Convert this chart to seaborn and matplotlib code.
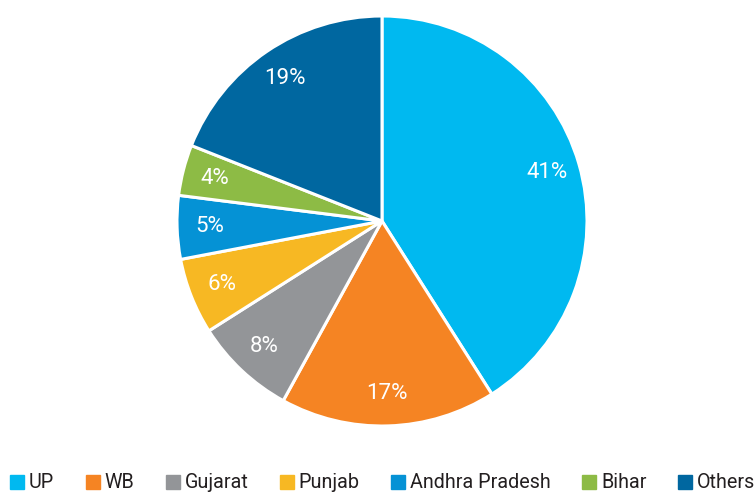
import matplotlib
matplotlib.use("Agg")
import matplotlib.pyplot as plt
from matplotlib.lines import Line2D
import seaborn as sns

categories = ["UP", "WB", "Gujarat", "Punjab", "Andhra Pradesh", "Bihar", "Others"]
values = [41, 17, 8, 6, 5, 4, 19]
colors = ["#00B9F0", "#F58423", "#939598", "#F7B823", "#0592D5", "#8DBB45", "#0067A0"]

sns.set_theme(style="white")
palette = sns.color_palette(colors)

fig = plt.figure(figsize=(7.56, 4.93), dpi=100)
ax = fig.add_axes([177 / 756, 67 / 493, 410 / 756, 410 / 493])

wedges, texts = ax.pie(
    values,
    colors=palette,
    startangle=90,
    counterclock=False,
    radius=1,
    labels=[f"{v}%" for v in values],
    labeldistance=0.84,
    wedgeprops=dict(edgecolor="white", linewidth=2.2),
    textprops=dict(color="white", fontsize=16, fontweight="normal",
                   family=["Roboto", "DejaVu Sans"]),
)
for t in texts:
    t.set_horizontalalignment("center")
    t.set_verticalalignment("center")
ax.set_xlim(-1, 1)
ax.set_ylim(-1, 1)
ax.set_aspect("equal")
ax.axis("off")

handles = [Line2D([0], [0], marker="s", linestyle="none", markersize=10,
                  markerfacecolor=c, markeredgecolor=c) for c in palette]
leg = fig.legend(handles, categories, loc="center", bbox_to_anchor=(0.5 + 5 / 756, 10 / 493),
                 ncol=7, frameon=False, handlelength=0.6, handletextpad=0.3,
                 columnspacing=1.65, borderaxespad=0,
                 prop=dict(family=["Roboto", "DejaVu Sans"], size=14.2))
for t in leg.get_texts():
    t.set_color("#231F20")

fig.savefig("out.png", dpi=100)
